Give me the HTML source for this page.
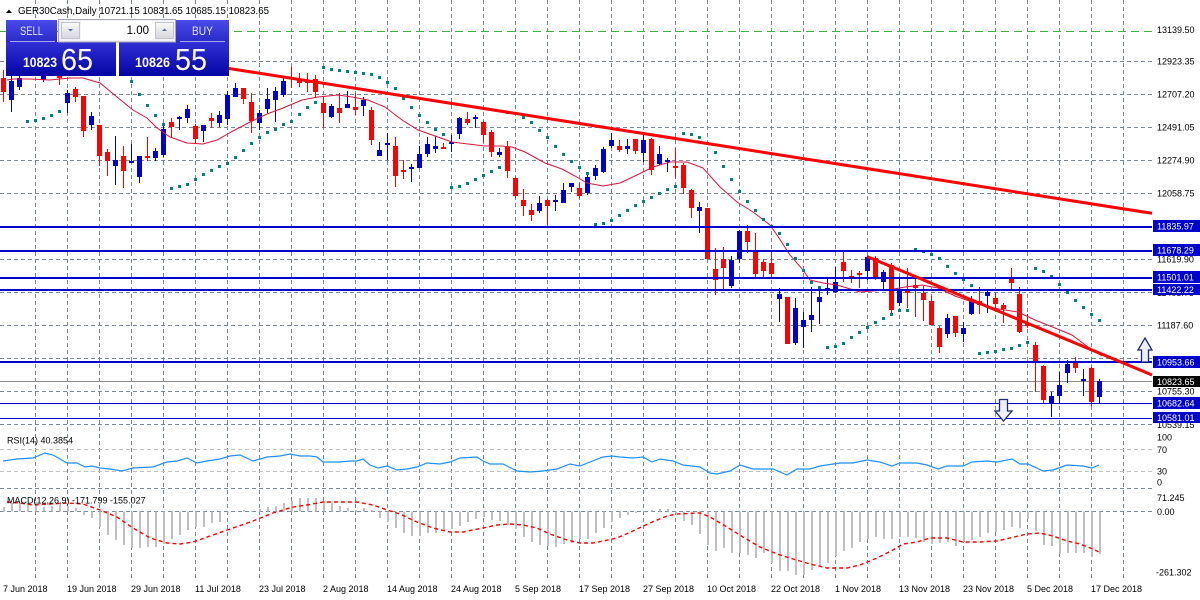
<!DOCTYPE html>
<html><head><meta charset="utf-8"><style>
html,body{margin:0;padding:0;background:#fff;}
svg{display:block;font-family:"Liberation Sans",Arial,sans-serif;}
</style></head><body>
<svg width="1200" height="600" viewBox="0 0 1200 600" xmlns="http://www.w3.org/2000/svg">
<defs>
<linearGradient id="gb" x1="0" y1="0" x2="0" y2="1"><stop offset="0" stop-color="#4a4aea"/><stop offset="1" stop-color="#2a2ac8"/></linearGradient>
<linearGradient id="gp" x1="0" y1="0" x2="0" y2="1"><stop offset="0" stop-color="#3030d6"/><stop offset="1" stop-color="#0505a4"/></linearGradient>
<linearGradient id="gg" x1="0" y1="0" x2="0" y2="1"><stop offset="0" stop-color="#fafafa"/><stop offset="1" stop-color="#d6d6dc"/></linearGradient>
</defs>
<rect width="1200" height="600" fill="#fff"/>

<!-- vertical grid -->
<path d="M35.5 0V578M67.5 0V578M99.5 0V578M131.5 0V578M163.5 0V578M195.5 0V578M227.5 0V578M259.5 0V578M291.5 0V578M323.5 0V578M355.5 0V578M387.5 0V578M419.5 0V578M451.5 0V578M483.5 0V578M515.5 0V578M547.5 0V578M579.5 0V578M611.5 0V578M643.5 0V578M675.5 0V578M707.5 0V578M739.5 0V578M771.5 0V578M803.5 0V578M835.5 0V578M867.5 0V578M899.5 0V578M931.5 0V578M963.5 0V578M995.5 0V578M1027.5 0V578M1059.5 0V578M1091.5 0V578M1123.5 0V578" stroke="#778899" stroke-width="1" stroke-dasharray="4 3" fill="none" shape-rendering="crispEdges"/>
<!-- horizontal grid -->
<path d="M0 61.5H1152M0 94.5H1152M0 127.5H1152M0 160.5H1152M0 193.5H1152M0 226.5H1152M0 259.5H1152M0 292.5H1152M0 325.5H1152M0 358.5H1152M0 391.5H1152M0 424.5H1152M0 488.5H1152M0 511.5H1152" stroke="#778899" stroke-width="1" stroke-dasharray="4 3" fill="none" shape-rendering="crispEdges"/>
<path d="M0 449.5H1152M0 471.5H1152" stroke="#c0c0c0" stroke-width="1" stroke-dasharray="4 3" fill="none" shape-rendering="crispEdges"/>
<!-- green dashed -->
<path d="M0 31.5H1152" stroke="#3cb03c" stroke-width="1" stroke-dasharray="8 5" fill="none" shape-rendering="crispEdges"/>

<!-- bid line -->
<path d="M0 381.5H1152" stroke="#8c8c8c" stroke-width="1" fill="none" shape-rendering="crispEdges"/>

<!-- red candles -->
<path fill="#ff0000" shape-rendering="crispEdges" d="M3 70h1v32h-1zM1 78h5v14h-5zM27 55h1v20h-1zM25 60h5v12h-5zM51 55h1v19h-1zM49 60h5v10h-5zM59 58h1v27h-1zM57 62h5v16h-5zM75 87h1v15h-1zM73 89h5v8h-5zM83 96h1v41h-1zM81 96h5v35h-5zM99 125h1v41h-1zM97 125h5v31h-5zM107 149h1v27h-1zM105 152h5v9h-5zM123 146h1v42h-1zM121 156h5v15h-5zM147 137h1v24h-1zM145 156h5v2h-5zM171 118h1v20h-1zM169 122h5v5h-5zM195 124h1v20h-1zM193 126h5v13h-5zM211 113h1v15h-1zM209 118h5v3h-5zM243 88h1v16h-1zM241 88h5v11h-5zM251 93h1v40h-1zM249 102h5v19h-5zM291 67h1v21h-1zM289 77h5v2h-5zM299 73h1v14h-1zM297 79h5v4h-5zM307 73h1v19h-1zM305 81h5v2h-5zM315 75h1v22h-1zM313 79h5v13h-5zM323 97h1v31h-1zM321 103h5v10h-5zM339 93h1v30h-1zM337 108h5v5h-5zM355 93h1v22h-1zM353 107h5v3h-5zM371 107h1v38h-1zM369 110h5v30h-5zM395 137h1v50h-1zM393 146h5v30h-5zM403 160h1v19h-1zM401 170h5v2h-5zM443 143h1v6h-1zM441 147h5v2h-5zM467 112h1v13h-1zM465 119h5v4h-5zM483 121h1v22h-1zM481 122h5v13h-5zM491 130h1v27h-1zM489 132h5v20h-5zM507 141h1v37h-1zM505 147h5v24h-5zM515 177h1v21h-1zM513 178h5v18h-5zM523 189h1v27h-1zM521 200h5v6h-5zM531 204h1v17h-1zM529 210h5v5h-5zM547 199h1v26h-1zM545 200h5v6h-5zM579 183h1v15h-1zM577 188h5v8h-5zM619 140h1v12h-1zM617 146h5v4h-5zM635 139h1v15h-1zM633 139h5v12h-5zM651 138h1v37h-1zM649 139h5v31h-5zM675 148h1v30h-1zM673 166h5v2h-5zM683 163h1v31h-1zM681 165h5v23h-5zM691 189h1v29h-1zM689 190h5v18h-5zM707 208h1v51h-1zM705 208h5v51h-5zM715 248h1v47h-1zM713 269h5v11h-5zM723 247h1v42h-1zM721 259h5v9h-5zM747 225h1v28h-1zM745 231h5v11h-5zM755 233h1v45h-1zM753 252h5v22h-5zM763 259h1v20h-1zM761 262h5v9h-5zM771 252h1v27h-1zM769 263h5v11h-5zM787 297h1v47h-1zM785 297h5v47h-5zM843 252h1v30h-1zM841 262h5v9h-5zM851 270h1v13h-1zM849 276h5v2h-5zM859 271h1v17h-1zM857 273h5v2h-5zM875 256h1v24h-1zM873 258h5v19h-5zM891 263h1v50h-1zM889 265h5v45h-5zM907 268h1v40h-1zM905 291h5v2h-5zM915 275h1v42h-1zM913 285h5v3h-5zM923 286h1v35h-1zM921 293h5v7h-5zM931 296h1v29h-1zM929 301h5v24h-5zM939 326h1v27h-1zM937 328h5v19h-5zM955 316h1v21h-1zM953 316h5v17h-5zM979 287h1v27h-1zM977 301h5v4h-5zM995 293h1v17h-1zM993 298h5v6h-5zM1003 303h1v20h-1zM1001 305h5v4h-5zM1011 268h1v21h-1zM1009 278h5v5h-5zM1019 287h1v46h-1zM1017 294h5v38h-5zM1027 314h1v14h-1zM1025 323h5v3h-5zM1035 342h1v50h-1zM1033 345h5v18h-5zM1043 365h1v38h-1zM1041 366h5v34h-5zM1075 357h1v16h-1zM1073 363h5v5h-5zM1091 367h1v39h-1zM1089 368h5v34h-5z"/>

<!-- blue candles -->
<path fill="#0000cd" shape-rendering="crispEdges" d="M11 72h1v40h-1zM9 81h5v19h-5zM19 72h1v18h-1zM17 78h5v9h-5zM35 52h1v22h-1zM33 58h5v12h-5zM43 62h1v20h-1zM41 70h5v10h-5zM67 90h1v23h-1zM65 93h5v10h-5zM91 112h1v18h-1zM89 116h5v9h-5zM115 136h1v49h-1zM113 160h5v6h-5zM131 144h1v19h-1zM129 161h5v2h-5zM139 156h1v27h-1zM137 156h5v21h-5zM155 148h1v13h-1zM153 151h5v7h-5zM163 125h1v32h-1zM161 129h5v26h-5zM179 116h1v14h-1zM177 117h5v2h-5zM187 105h1v18h-1zM185 109h5v9h-5zM203 125h1v17h-1zM201 125h5v6h-5zM219 111h1v16h-1zM217 115h5v8h-5zM227 91h1v34h-1zM225 95h5v24h-5zM235 83h1v14h-1zM233 88h5v9h-5zM259 110h1v20h-1zM257 113h5v10h-5zM267 88h1v25h-1zM265 99h5v10h-5zM275 87h1v35h-1zM273 91h5v9h-5zM283 77h1v20h-1zM281 81h5v14h-5zM331 104h1v14h-1zM329 106h5v11h-5zM347 91h1v17h-1zM345 104h5v4h-5zM363 97h1v19h-1zM361 100h5v6h-5zM379 142h1v14h-1zM377 150h5v6h-5zM387 133h1v27h-1zM385 143h5v2h-5zM411 164h1v18h-1zM409 167h5v2h-5zM419 146h1v22h-1zM417 154h5v14h-5zM427 137h1v20h-1zM425 144h5v10h-5zM435 136h1v17h-1zM433 146h5v3h-5zM451 135h1v17h-1zM449 142h5v2h-5zM459 117h1v22h-1zM457 118h5v16h-5zM475 115h1v13h-1zM473 117h5v2h-5zM499 148h1v9h-1zM497 152h5v3h-5zM539 196h1v17h-1zM537 203h5v8h-5zM555 195h1v16h-1zM553 200h5v2h-5zM563 183h1v20h-1zM561 190h5v13h-5zM571 183h1v9h-1zM569 183h5v4h-5zM587 172h1v23h-1zM585 177h5v16h-5zM595 165h1v15h-1zM593 168h5v8h-5zM603 147h1v26h-1zM601 149h5v23h-5zM611 133h1v15h-1zM609 140h5v6h-5zM627 139h1v15h-1zM625 146h5v3h-5zM643 135h1v27h-1zM641 140h5v13h-5zM659 146h1v19h-1zM657 154h5v10h-5zM667 158h1v14h-1zM665 160h5v2h-5zM699 202h1v31h-1zM697 207h5v4h-5zM731 256h1v32h-1zM729 260h5v26h-5zM739 230h1v33h-1zM737 231h5v28h-5zM779 288h1v34h-1zM777 294h5v5h-5zM795 298h1v47h-1zM793 308h5v35h-5zM803 312h1v36h-1zM801 320h5v7h-5zM811 287h1v45h-1zM809 315h5v5h-5zM819 287h1v37h-1zM817 297h5v5h-5zM827 278h1v17h-1zM825 288h5v2h-5zM835 267h1v26h-1zM833 282h5v10h-5zM867 256h1v24h-1zM865 257h5v14h-5zM883 270h1v20h-1zM881 272h5v10h-5zM899 278h1v28h-1zM897 289h5v14h-5zM947 314h1v24h-1zM945 318h5v16h-5zM963 322h1v20h-1zM961 328h5v6h-5zM971 296h1v19h-1zM969 300h5v14h-5zM987 289h1v24h-1zM985 292h5v4h-5zM1051 392h1v25h-1zM1049 396h5v7h-5zM1059 372h1v31h-1zM1057 385h5v11h-5zM1067 360h1v23h-1zM1065 364h5v9h-5zM1083 369h1v27h-1zM1081 379h5v2h-5zM1099 379h1v24h-1zM1097 381h5v16h-5z"/>

<!-- moving average -->
<polyline fill="none" stroke="#dc143c" stroke-width="1" points="7,80 13,79 30,79 50,80 60,79 70,78 83,78 100,83 117,97 133,110 147,118 157,128 170,137 187,143 203,144 217,140 233,131 250,122 267,114 283,108 302,100 318,97 338,95 352,97 368,100 385,107 402,120 418,130 435,136 452,142 468,144 485,146 502,146 512,147 525,152 545,163 562,169 575,176 587,183 603,186 620,183 637,175 653,167 670,162 687,162 703,168 720,187 737,202 753,212 770,225 777,235 790,255 803,270 810,280 823,283 837,285 847,288 860,292 872,291 888,290 905,287 922,285 938,288 955,296 972,302 988,307 1005,310 1018,312 1035,320 1055,328 1072,335 1088,347 1102,356"/>

<!-- parabolic SAR -->
<path fill="#008080" shape-rendering="crispEdges" d="M26 120h3v3h-3zM34 119h3v3h-3zM42 117h3v3h-3zM50 114h3v3h-3zM58 110h3v3h-3zM130 80h3v3h-3zM138 93h3v3h-3zM146 104h3v3h-3zM154 114h3v3h-3zM162 123h3v3h-3zM170 187h3v3h-3zM178 185h3v3h-3zM186 183h3v3h-3zM194 178h3v3h-3zM202 173h3v3h-3zM210 169h3v3h-3zM218 165h3v3h-3zM226 162h3v3h-3zM234 156h3v3h-3zM242 149h3v3h-3zM250 142h3v3h-3zM258 136h3v3h-3zM266 131h3v3h-3zM274 128h3v3h-3zM282 123h3v3h-3zM290 120h3v3h-3zM298 113h3v3h-3zM306 106h3v3h-3zM314 101h3v3h-3zM322 66h3v3h-3zM330 68h3v3h-3zM338 69h3v3h-3zM346 70h3v3h-3zM354 71h3v3h-3zM362 72h3v3h-3zM370 73h3v3h-3zM378 76h3v3h-3zM386 81h3v3h-3zM394 87h3v3h-3zM402 97h3v3h-3zM410 106h3v3h-3zM418 114h3v3h-3zM426 121h3v3h-3zM434 128h3v3h-3zM442 133h3v3h-3zM450 186h3v3h-3zM458 185h3v3h-3zM466 182h3v3h-3zM474 178h3v3h-3zM482 174h3v3h-3zM490 170h3v3h-3zM498 166h3v3h-3zM506 111h3v3h-3zM514 112h3v3h-3zM522 116h3v3h-3zM530 121h3v3h-3zM538 129h3v3h-3zM546 136h3v3h-3zM554 145h3v3h-3zM562 153h3v3h-3zM570 160h3v3h-3zM578 166h3v3h-3zM586 172h3v3h-3zM594 223h3v3h-3zM602 222h3v3h-3zM610 219h3v3h-3zM618 214h3v3h-3zM626 209h3v3h-3zM634 204h3v3h-3zM642 200h3v3h-3zM650 196h3v3h-3zM658 192h3v3h-3zM666 188h3v3h-3zM674 185h3v3h-3zM682 132h3v3h-3zM690 133h3v3h-3zM698 136h3v3h-3zM706 142h3v3h-3zM714 151h3v3h-3zM722 165h3v3h-3zM730 178h3v3h-3zM738 190h3v3h-3zM746 200h3v3h-3zM754 209h3v3h-3zM762 218h3v3h-3zM770 225h3v3h-3zM778 232h3v3h-3zM786 243h3v3h-3zM794 257h3v3h-3zM802 269h3v3h-3zM810 281h3v3h-3zM818 286h3v3h-3zM826 346h3v3h-3zM834 345h3v3h-3zM842 342h3v3h-3zM850 336h3v3h-3zM858 331h3v3h-3zM866 326h3v3h-3zM874 321h3v3h-3zM882 317h3v3h-3zM890 313h3v3h-3zM898 309h3v3h-3zM906 309h3v3h-3zM914 248h3v3h-3zM922 250h3v3h-3zM930 253h3v3h-3zM938 257h3v3h-3zM946 265h3v3h-3zM954 272h3v3h-3zM962 278h3v3h-3zM970 284h3v3h-3zM978 352h3v3h-3zM986 351h3v3h-3zM994 350h3v3h-3zM1002 348h3v3h-3zM1010 347h3v3h-3zM1018 344h3v3h-3zM1026 341h3v3h-3zM1034 267h3v3h-3zM1042 270h3v3h-3zM1050 275h3v3h-3zM1058 283h3v3h-3zM1066 291h3v3h-3zM1074 299h3v3h-3zM1082 306h3v3h-3zM1090 313h3v3h-3zM1098 319h3v3h-3z"/>

<!-- horizontal level lines -->
<g stroke="#0000cd" fill="none" shape-rendering="crispEdges">
<path d="M0 227H1152M0 251H1152M0 278H1152M0 290H1152M0 362H1152" stroke-width="2"/>
<path d="M0 403.5H1152M0 418.5H1152" stroke-width="1"/>
</g>

<!-- trendlines -->
<path d="M215 66.3L1152 213.3" stroke="#ff0000" stroke-width="3" fill="none"/>
<path d="M867 256.5L1152 375" stroke="#ff0000" stroke-width="3" fill="none"/>

<!-- arrows -->
<path d="M1145 338L1152 350H1148.5V362H1141.5V350H1138Z" fill="#eef0ff" stroke="#1e2a78" stroke-width="1.3"/>
<path d="M999.5 399.5H1007.5V411H1012L1003.5 421L995 411H999.5Z" fill="#eef0ff" stroke="#1e2a78" stroke-width="1.3"/>

<!-- RSI -->
<polyline fill="none" stroke="#1e90ff" stroke-width="1.2" points="3,461 17,459 33,458 45,453 53,455 67,463 77,463 85,467 92,466 100,468 110,469 122,471 133,468 153,467 167,462 177,461 187,458 197,463 207,461 220,459 230,456 240,455 253,461 267,457 280,456 290,454 300,456 310,456 317,457 323,462 333,462 340,462 350,461 357,461 363,459 370,465 378,468 387,466 397,470 407,469 417,467 427,463 440,464 450,462 460,458 477,457 483,461 490,464 503,464 517,471 530,472 543,471 557,469 570,464 580,466 590,462 603,457 612,456 620,457 633,458 643,457 652,462 660,459 673,461 683,465 700,467 710,473 717,474 730,471 740,465 753,469 773,469 787,475 797,469 810,469 820,466 840,463 853,463 867,460 880,462 892,466 900,463 917,463 927,465 938,469 947,466 963,466 972,462 987,461 997,462 1012,459 1020,464 1028,464 1043,471 1053,470 1067,465 1083,466 1092,468 1099,465"/>

<!-- MACD histogram -->
<path fill="none" stroke="#c0c0c0" stroke-width="2" shape-rendering="crispEdges" d="M4 511.5V507M12 511.5V503M20 511.5V503M28 511.5V503M36 511.5V502M44 511.5V507M52 511.5V506M60 511.5V505M68 511.5V506M76 511.5V508M84 511.5V515M92 511.5V518M100 511.5V527M108 511.5V535M116 511.5V540M124 511.5V545M132 511.5V548M140 511.5V548M148 511.5V547M156 511.5V547M164 511.5V544M172 511.5V539M180 511.5V535M188 511.5V530M196 511.5V527M204 511.5V527M212 511.5V523M220 511.5V522M228 511.5V513M236 511.5V512M244 511.5V510M252 511.5V511M260 511.5V509M268 511.5V507M276 511.5V506M284 511.5V503M292 511.5V501M300 511.5V498M308 511.5V498M316 511.5V498M324 511.5V501M332 511.5V503M340 511.5V506M348 511.5V508M356 511.5V510M364 511.5V508M372 511.5V510M380 511.5V518M388 511.5V522M396 511.5V528M404 511.5V533M412 511.5V536M420 511.5V536M428 511.5V533M436 511.5V533M444 511.5V530M452 511.5V529M460 511.5V526M468 511.5V522M476 511.5V519M484 511.5V517M492 511.5V520M500 511.5V521M508 511.5V525M516 511.5V529M524 511.5V537M532 511.5V542M540 511.5V545M548 511.5V546M556 511.5V547M564 511.5V544M572 511.5V543M580 511.5V539M588 511.5V539M596 511.5V533M604 511.5V528M612 511.5V522M620 511.5V518M628 511.5V515M636 511.5V513M644 511.5V512M652 511.5V510M660 511.5V509M668 511.5V509M676 511.5V513M684 511.5V521M692 511.5V525M700 511.5V534M708 511.5V545M716 511.5V551M724 511.5V548M732 511.5V553M740 511.5V553M748 511.5V555M756 511.5V558M764 511.5V553M772 511.5V563M780 511.5V571M788 511.5V571M796 511.5V575M804 511.5V575M812 511.5V570M820 511.5V567M828 511.5V563M836 511.5V556M844 511.5V551M852 511.5V548M860 511.5V542M868 511.5V539M876 511.5V537M884 511.5V539M892 511.5V539M900 511.5V537M908 511.5V537M916 511.5V538M924 511.5V542M932 511.5V544M940 511.5V543M948 511.5V542M956 511.5V546M964 511.5V542M972 511.5V540M980 511.5V537M988 511.5V533M996 511.5V532M1004 511.5V530M1012 511.5V527M1020 511.5V528M1028 511.5V519M1036 511.5V531M1044 511.5V545M1052 511.5V546M1060 511.5V554M1068 511.5V553M1076 511.5V553M1084 511.5V553M1092 511.5V557M1100 511.5V554"/>

<!-- MACD signal -->
<polyline fill="none" stroke="#ff0000" stroke-width="1.4" stroke-dasharray="4 3" points="7,502 20,503 33,505 50,504 67,503 83,504 100,510 117,517 133,528 150,538 167,543 180,544 193,542 213,535 233,528 253,521 273,513 293,507 307,505 323,502 357,502 373,505 387,510 400,514 417,522 433,528 450,532 463,532 483,528 497,525 510,524 523,525 537,528 550,534 567,540 580,543 593,543 603,541 617,538 633,531 650,523 667,516 677,514 700,513 710,517 727,527 743,537 760,547 777,554 793,559 810,564 827,568 847,568 860,565 877,558 893,550 903,544 917,542 930,538 947,538 963,542 980,542 997,541 1010,538 1027,534 1040,533 1053,536 1067,541 1080,544 1093,549 1099,552"/>

<!-- indicator labels -->
<g font-size="9" fill="#000">
<text x="7" y="443.5">RSI(14) 40.3854</text>
<text x="7" y="503.5">MACD(12,26,9) -171.799 -155.027</text>
</g>

<!-- header -->
<polygon points="6,13 9,9.5 12,13" fill="#000"/>
<text x="18" y="14" font-size="9.7" fill="#000">GER30Cash,Daily  10721.15 10831.65 10685.15 10823.65</text>

<!-- trade panel -->
<rect x="6" y="20" width="51" height="22" fill="url(#gb)"/>
<rect x="176" y="20" width="53" height="22" fill="url(#gb)"/>
<rect x="6" y="42" width="110" height="34" fill="url(#gp)"/>
<rect x="119" y="42" width="110" height="34" fill="url(#gp)"/>
<path d="M10 41.5H55M180 41.5H225" stroke="#a9a9f2" stroke-width="1"/>
<rect x="58.5" y="19.5" width="117" height="22.5" fill="#f2f2f4" stroke="#a6a6b4" stroke-width="1"/>
<rect x="81" y="21" width="74" height="19" fill="#ffffff"/>
<rect x="61.5" y="22.5" width="18" height="16" fill="url(#gg)" stroke="#c2c2ca"/>
<rect x="155.5" y="22.5" width="18" height="16" fill="url(#gg)" stroke="#c2c2ca"/>
<polygon points="68,29 73,29 70.5,31.5" fill="#5570a8"/>
<polygon points="162,31 167,31 164.5,28.5" fill="#5570a8"/>
<text x="31.5" y="35" font-size="12" fill="#e4e4ff" text-anchor="middle" textLength="23" lengthAdjust="spacingAndGlyphs">SELL</text>
<text x="202.5" y="35" font-size="12" fill="#e4e4ff" text-anchor="middle" textLength="21" lengthAdjust="spacingAndGlyphs">BUY</text>
<text x="149" y="34" font-size="11.5" fill="#000" text-anchor="end">1.00</text>
<text x="23" y="67" font-size="14" font-weight="bold" fill="#fff" textLength="34" lengthAdjust="spacingAndGlyphs">10823</text>
<text x="61" y="70" font-size="31" fill="#fff" textLength="32" lengthAdjust="spacingAndGlyphs">65</text>
<text x="135" y="67" font-size="14" font-weight="bold" fill="#fff" textLength="35" lengthAdjust="spacingAndGlyphs">10826</text>
<text x="175" y="70" font-size="31" fill="#fff" textLength="32" lengthAdjust="spacingAndGlyphs">55</text>

<!-- right axis labels -->
<g font-size="9" fill="#000">
<text x="1157" y="33">13139.50</text>
<text x="1157" y="64.5">12923.35</text>
<text x="1157" y="97.5">12707.20</text>
<text x="1157" y="130.5">12491.05</text>
<text x="1157" y="163.5">12274.90</text>
<text x="1157" y="196.5">12058.75</text>
<text x="1157" y="262.5">11619.90</text>
<text x="1157" y="296">11403.75</text>
<text x="1157" y="328.5">11187.60</text>
<text x="1157" y="394.5">10755.30</text>
<text x="1157" y="428">10539.15</text>
<text x="1157" y="440.5">100</text>
<text x="1157" y="453">70</text>
<text x="1157" y="474.5">30</text>
<text x="1157" y="485.5">0</text>
<text x="1157" y="501">71.245</text>
<text x="1157" y="515">0.00</text>
<text x="1156" y="575.5">-261.302</text>
</g>
<!-- highlighted level boxes -->
<g shape-rendering="crispEdges">
<rect x="1153" y="220" width="47" height="12" fill="#0000cd"/>
<rect x="1153" y="244" width="47" height="12" fill="#0000cd"/>
<rect x="1153" y="271" width="47" height="12" fill="#0000cd"/>
<rect x="1153" y="284" width="47" height="11" fill="#0000cd"/>
<rect x="1153" y="356" width="47" height="12" fill="#0000cd"/>
<rect x="1153" y="376" width="47" height="11" fill="#000"/>
<rect x="1153" y="397" width="47" height="12" fill="#0000cd"/>
<rect x="1153" y="412" width="47" height="11" fill="#0000cd"/>
</g>
<g font-size="9" fill="#fff">
<text x="1157" y="229.5">11835.97</text>
<text x="1157" y="253.5">11678.29</text>
<text x="1157" y="280.5">11501.01</text>
<text x="1157" y="293">11422.22</text>
<text x="1157" y="365.5">10953.66</text>
<text x="1157" y="385">10823.65</text>
<text x="1157" y="406.5">10682.64</text>
<text x="1157" y="421">10581.01</text>
</g>

<!-- date labels -->
<g font-size="9" fill="#000">
<text x="3" y="592">7 Jun 2018</text>
<text x="67" y="592">19 Jun 2018</text>
<text x="131" y="592">29 Jun 2018</text>
<text x="195" y="592">11 Jul 2018</text>
<text x="259" y="592">23 Jul 2018</text>
<text x="323" y="592">2 Aug 2018</text>
<text x="387" y="592">14 Aug 2018</text>
<text x="451" y="592">24 Aug 2018</text>
<text x="515" y="592">5 Sep 2018</text>
<text x="579" y="592">17 Sep 2018</text>
<text x="643" y="592">27 Sep 2018</text>
<text x="707" y="592">10 Oct 2018</text>
<text x="771" y="592">22 Oct 2018</text>
<text x="835" y="592">1 Nov 2018</text>
<text x="899" y="592">13 Nov 2018</text>
<text x="963" y="592">23 Nov 2018</text>
<text x="1027" y="592">5 Dec 2018</text>
<text x="1091" y="592">17 Dec 2018</text>
</g>
</svg>
</body></html>
